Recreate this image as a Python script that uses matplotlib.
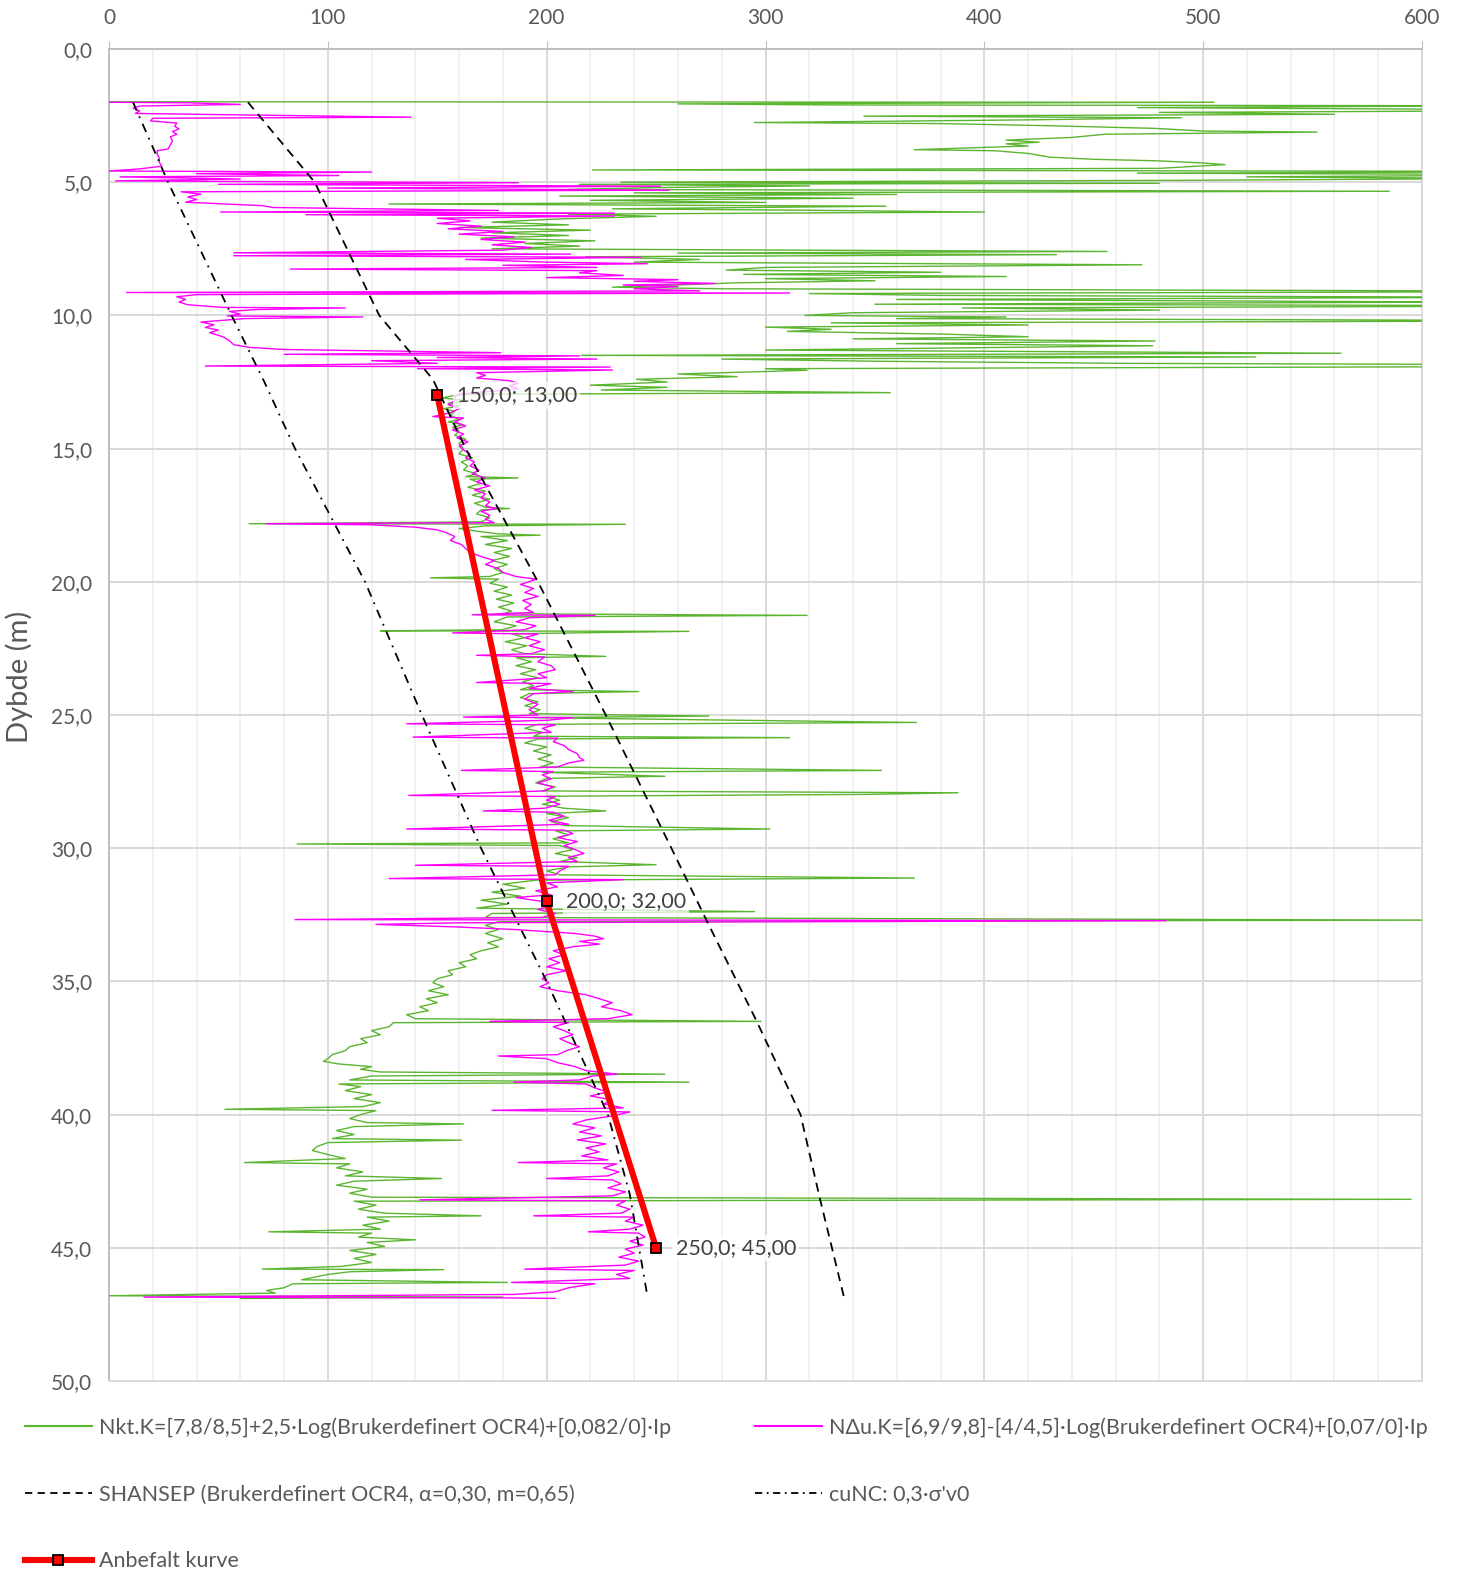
import numpy as np
import matplotlib
matplotlib.use("Agg")
import matplotlib.pyplot as plt
from matplotlib.lines import Line2D
from matplotlib.ticker import MultipleLocator, FuncFormatter

plt.rcParams['font.family'] = ['Lato', 'DejaVu Sans']

# Nkt-tolkning (grønn): (dybde m, su kPa)
nkt_points = [
    (1.98, 0), (2.0, 505), (2.06, 260), (2.1, 330), (2.13, 640), (2.2, 470), (2.3, 700), (2.38, 480),
    (2.45, 560), (2.52, 345), (2.58, 490), (2.66, 420), (2.76, 295), (2.8, 380), (2.88, 430), (2.98, 478),
    (3.08, 500), (3.12, 552), (3.2, 455), (3.32, 440), (3.42, 410), (3.5, 425), (3.56, 410), (3.64, 420),
    (3.78, 368), (3.82, 405), (3.92, 420), (4.06, 430), (4.14, 450), (4.2, 480), (4.28, 500), (4.34, 510),
    (4.48, 480), (4.54, 221), (4.6, 700), (4.66, 470), (4.72, 680), (4.8, 520), (4.86, 640), (4.93, 490),
    (5.0, 234), (5.04, 480), (5.08, 215), (5.14, 320), (5.2, 250), (5.27, 210), (5.34, 585), (5.4, 240),
    (5.46, 360), (5.52, 206), (5.6, 340), (5.68, 220), (5.76, 300), (5.82, 128), (5.9, 355), (6.0, 230),
    (6.05, 315), (6.12, 400), (6.2, 210), (6.28, 250), (6.38, 205), (6.5, 175), (6.6, 210), (6.7, 160),
    (6.8, 220), (6.9, 175), (7.0, 210), (7.1, 170), (7.2, 222), (7.3, 190), (7.4, 215), (7.5, 175),
    (7.6, 456), (7.66, 260), (7.72, 433), (7.8, 218), (7.9, 270), (8.0, 240), (8.1, 472), (8.2, 300),
    (8.3, 282), (8.38, 380), (8.46, 290), (8.54, 410), (8.62, 300), (8.7, 350), (8.78, 285), (8.86, 260),
    (8.94, 230), (9.0, 280), (9.1, 700), (9.18, 320), (9.25, 380), (9.32, 650), (9.4, 360), (9.5, 620),
    (9.58, 350), (9.64, 700), (9.72, 390), (9.8, 480), (9.9, 340), (10.0, 318), (10.06, 410), (10.12, 360),
    (10.2, 700), (10.28, 330), (10.36, 420), (10.44, 300), (10.52, 330), (10.6, 310), (10.7, 380),
    (10.8, 420), (10.88, 340), (10.96, 478), (11.06, 360), (11.14, 477), (11.3, 300), (11.42, 563),
    (11.5, 216), (11.56, 524), (11.64, 280), (11.72, 350), (11.8, 465), (11.86, 700), (11.92, 650),
    (12.0, 300), (12.06, 319), (12.2, 260), (12.3, 287), (12.4, 241), (12.5, 255), (12.62, 220),
    (12.7, 255), (12.8, 225), (12.9, 357), (12.96, 165), (13.0, 158),
    (13.1, 152), (13.2, 165), (13.3, 155), (13.4, 160), (13.5, 153), (13.6, 158), (13.75, 156), (13.9, 160),
    (14.0, 155), (14.1, 162), (14.2, 157), (14.35, 160), (14.5, 158), (14.65, 163), (14.8, 160), (15.0, 162),
    (15.2, 160), (15.35, 166), (15.5, 161), (15.65, 164), (15.8, 162), (15.95, 168), (16.05, 163), (16.1, 187),
    (16.15, 165), (16.3, 170), (16.45, 164), (16.6, 172), (16.75, 166), (16.9, 174), (17.05, 167), (17.2, 172),
    (17.25, 183), (17.3, 170), (17.45, 168), (17.6, 174), (17.75, 170), (17.82, 64), (17.84, 236), (17.9, 172),
    (18.0, 160), (18.1, 168), (18.2, 178), (18.25, 197), (18.3, 170), (18.45, 182), (18.6, 172), (18.75, 184),
    (18.9, 176), (19.05, 183), (19.2, 175), (19.35, 182), (19.5, 176), (19.65, 180), (19.8, 174), (19.85, 147),
    (19.9, 178), (20.05, 174), (20.2, 182), (20.35, 176), (20.5, 184), (20.65, 177), (20.8, 185), (20.95, 178),
    (21.1, 184), (21.2, 180), (21.26, 319), (21.32, 182), (21.5, 176), (21.65, 186), (21.8, 180), (21.84, 124),
    (21.86, 265), (21.95, 184), (22.1, 190), (22.25, 181), (22.4, 191), (22.55, 184), (22.7, 190), (22.8, 227),
    (22.85, 186), (23.0, 193), (23.15, 186), (23.3, 195), (23.45, 188), (23.6, 196), (23.75, 189), (23.9, 194),
    (24.05, 188), (24.12, 242), (24.2, 192), (24.35, 188), (24.5, 196), (24.65, 190), (24.8, 197), (24.95, 192),
    (25.04, 274), (25.1, 194), (25.28, 369), (25.35, 196), (25.5, 190), (25.65, 198), (25.8, 194), (25.85, 311),
    (25.9, 196), (26.05, 190), (26.2, 200), (26.35, 194), (26.5, 202), (26.65, 196), (26.8, 203), (26.95, 197),
    (27.08, 353), (27.15, 198), (27.3, 254), (27.38, 200), (27.55, 195), (27.7, 204), (27.85, 198), (27.92, 388),
    (27.98, 346), (28.05, 200), (28.2, 206), (28.35, 198), (28.5, 208), (28.6, 227), (28.7, 200), (28.85, 210),
    (29.0, 202), (29.15, 208), (29.28, 302), (29.35, 204), (29.5, 210), (29.65, 203), (29.8, 210), (29.84, 86),
    (29.9, 206), (30.05, 212), (30.2, 204), (30.35, 214), (30.5, 206), (30.62, 250), (30.7, 210), (30.85, 200),
    (31.0, 206), (31.12, 368), (31.2, 195), (31.35, 180), (31.5, 190), (31.65, 175), (31.8, 188), (31.95, 170),
    (32.1, 182), (32.25, 168), (32.38, 295), (32.45, 175), (32.6, 172), (32.7, 610), (32.76, 178), (32.9, 172),
    (33.05, 178), (33.2, 172), (33.4, 180), (33.55, 173), (33.7, 178), (33.85, 170), (34.0, 165), (34.15, 168),
    (34.3, 160), (34.45, 163), (34.6, 155), (34.75, 157), (34.9, 150), (35.05, 148), (35.2, 153), (35.35, 146),
    (35.5, 155), (35.65, 145), (35.8, 150), (35.95, 142), (36.1, 146), (36.25, 136), (36.4, 140), (36.5, 298),
    (36.55, 130), (36.7, 128), (36.85, 120), (37.0, 124), (37.15, 115), (37.3, 118), (37.45, 110), (37.6, 108),
    (37.75, 102), (37.9, 100), (38.0, 98), (38.1, 105), (38.2, 120), (38.3, 115), (38.4, 124), (38.48, 254),
    (38.55, 120), (38.7, 110), (38.78, 265), (38.85, 105), (38.95, 115), (39.1, 108), (39.25, 120), (39.4, 112),
    (39.55, 124), (39.7, 116), (39.8, 53), (39.85, 122), (40.0, 115), (40.15, 110), (40.3, 118), (40.35, 162),
    (40.45, 112), (40.6, 104), (40.75, 112), (40.9, 102), (40.96, 161), (41.05, 100), (41.2, 95), (41.35, 93),
    (41.5, 100), (41.65, 108), (41.8, 62), (41.85, 110), (42.0, 104), (42.15, 116), (42.3, 108), (42.4, 152),
    (42.5, 112), (42.65, 104), (42.8, 118), (42.95, 110), (43.1, 120), (43.18, 595), (43.25, 112), (43.4, 122),
    (43.55, 114), (43.7, 126), (43.8, 170), (43.85, 118), (44.0, 128), (44.15, 116), (44.3, 124), (44.4, 73),
    (44.45, 120), (44.6, 114), (44.7, 140), (44.8, 118), (44.95, 126), (45.1, 110), (45.25, 122), (45.4, 112),
    (45.55, 120), (45.7, 106), (45.8, 70), (45.82, 153), (45.9, 110), (46.0, 100), (46.1, 94), (46.2, 88),
    (46.3, 182), (46.35, 84), (46.5, 80), (46.6, 72), (46.7, 76), (46.8, 0), (46.85, 180), (46.9, 60),
]

# NΔu-tolkning (magenta)
ndu_points = [
    (2.0, 0), (2.02, 37), (2.08, 60), (2.14, 14), (2.22, 11), (2.32, 14), (2.42, 12), (2.56, 138), (2.6, 20),
    (2.7, 19), (2.78, 31), (2.9, 30), (3.0, 32), (3.1, 29), (3.2, 31), (3.3, 28), (3.45, 29), (3.6, 28),
    (3.75, 27), (3.82, 22), (3.95, 22), (4.1, 23), (4.25, 23), (4.4, 24), (4.5, 14), (4.58, 0), (4.62, 120),
    (4.68, 40), (4.75, 105), (4.8, 5), (4.88, 60), (4.95, 3), (5.02, 187), (5.08, 50), (5.15, 252), (5.22, 100),
    (5.3, 256), (5.36, 33), (5.45, 42), (5.55, 36), (5.65, 40), (5.75, 35), (5.88, 70), (5.95, 75), (6.06, 178),
    (6.12, 51), (6.16, 231), (6.22, 90), (6.27, 231), (6.35, 150), (6.45, 165), (6.55, 150), (6.65, 170),
    (6.75, 155), (6.85, 180), (6.95, 160), (7.05, 185), (7.15, 170), (7.25, 190), (7.35, 175), (7.45, 193),
    (7.55, 180), (7.65, 57), (7.7, 211), (7.76, 57), (7.82, 243), (7.9, 163), (8.0, 200), (8.06, 246),
    (8.12, 180), (8.2, 223), (8.26, 83), (8.32, 223), (8.4, 215), (8.5, 235), (8.58, 200), (8.66, 260),
    (8.72, 240), (8.8, 277), (8.86, 235), (8.92, 260), (9.0, 240), (9.08, 270), (9.14, 8), (9.16, 311),
    (9.22, 40), (9.3, 31), (9.4, 35), (9.5, 32), (9.6, 36), (9.7, 52), (9.72, 108), (9.78, 67), (9.85, 55),
    (9.95, 60), (10.02, 54), (10.06, 116), (10.12, 62), (10.25, 42), (10.35, 48), (10.45, 44), (10.55, 50),
    (10.65, 46), (10.8, 52), (10.95, 55), (11.1, 57), (11.2, 64), (11.28, 80), (11.4, 179), (11.46, 80),
    (11.52, 215), (11.58, 150), (11.64, 223), (11.7, 120), (11.8, 150), (11.9, 44), (11.94, 229), (12.0, 141),
    (12.05, 230), (12.15, 168), (12.25, 172), (12.35, 168), (12.45, 183), (12.55, 187), (12.65, 183),
    (12.75, 187), (12.85, 175), (12.95, 160), (13.05, 158),
    (13.2, 158), (13.35, 155), (13.5, 160), (13.65, 156), (13.8, 148), (13.85, 162), (14.0, 158), (14.15, 163),
    (14.3, 157), (14.45, 162), (14.6, 159), (14.75, 164), (14.9, 160), (15.05, 162), (15.2, 165), (15.35, 163),
    (15.5, 167), (15.65, 165), (15.8, 169), (15.95, 166), (16.1, 172), (16.25, 168), (16.4, 174), (16.55, 167),
    (16.7, 172), (16.85, 170), (17.0, 174), (17.15, 172), (17.25, 177), (17.35, 170), (17.5, 174), (17.65, 172),
    (17.78, 176), (17.82, 72), (17.86, 120), (17.95, 140), (18.05, 150), (18.15, 154), (18.3, 158), (18.45, 156),
    (18.6, 161), (18.75, 163), (18.9, 165), (19.05, 170), (19.2, 176), (19.35, 172), (19.5, 178), (19.65, 180),
    (19.8, 186), (19.9, 195), (20.0, 192), (20.1, 188), (20.25, 194), (20.4, 190), (20.55, 196), (20.7, 189),
    (20.85, 193), (21.0, 190), (21.15, 194), (21.24, 166), (21.26, 222), (21.35, 192), (21.5, 186), (21.65, 195),
    (21.8, 190), (21.92, 157), (21.96, 196), (22.1, 190), (22.25, 197), (22.4, 192), (22.55, 199), (22.7, 193),
    (22.76, 168), (22.82, 199), (23.0, 196), (23.15, 202), (23.3, 204), (23.45, 196), (23.6, 200), (23.78, 168),
    (23.82, 202), (24.0, 192), (24.12, 212), (24.2, 194), (24.4, 190), (24.6, 196), (24.8, 192), (25.0, 196),
    (25.08, 162), (25.1, 212), (25.2, 200), (25.33, 136), (25.37, 204), (25.5, 198), (25.65, 202), (25.83, 139),
    (25.87, 205), (26.0, 203), (26.15, 208), (26.3, 210), (26.45, 214), (26.6, 215), (26.7, 217), (26.8, 210),
    (26.95, 205), (27.08, 161), (27.12, 203), (27.25, 198), (27.4, 202), (27.55, 196), (27.7, 203), (27.85, 199),
    (28.02, 137), (28.06, 204), (28.2, 200), (28.35, 206), (28.5, 199), (28.6, 171), (28.65, 203), (28.8, 208),
    (28.95, 201), (29.1, 210), (29.28, 136), (29.32, 208), (29.45, 212), (29.6, 205), (29.75, 214), (29.9, 208),
    (30.05, 213), (30.2, 217), (30.35, 210), (30.5, 214), (30.64, 140), (30.68, 210), (30.85, 206), (31.0, 204),
    (31.14, 128), (31.18, 235), (31.3, 200), (31.45, 205), (31.6, 195), (31.75, 202), (31.85, 186), (32.0, 198),
    (32.15, 202), (32.3, 196), (32.45, 204), (32.6, 198), (32.68, 85), (32.72, 483), (32.8, 160), (32.86, 122),
    (32.95, 157), (33.05, 185), (33.2, 213), (33.3, 222), (33.4, 226), (33.5, 215), (33.6, 224), (33.7, 212),
    (33.85, 203), (34.0, 208), (34.15, 201), (34.3, 206), (34.45, 200), (34.6, 209), (34.75, 200), (34.9, 198),
    (35.05, 201), (35.2, 197), (35.35, 205), (35.5, 218), (35.65, 224), (35.8, 230), (35.95, 225), (36.1, 234),
    (36.25, 239), (36.4, 228), (36.5, 174), (36.55, 210), (36.7, 203), (36.85, 208), (37.0, 212), (37.15, 206),
    (37.3, 210), (37.45, 215), (37.6, 209), (37.75, 205), (37.8, 178), (37.9, 200), (38.05, 205), (38.2, 213),
    (38.35, 218), (38.48, 232), (38.55, 221), (38.7, 215), (38.78, 185), (38.85, 218), (39.0, 222), (39.15, 228),
    (39.3, 220), (39.45, 230), (39.6, 226), (39.75, 235), (39.84, 175), (39.9, 238), (40.05, 230), (40.2, 218),
    (40.35, 212), (40.5, 222), (40.65, 215), (40.8, 225), (40.95, 214), (41.1, 227), (41.25, 218), (41.4, 224),
    (41.55, 216), (41.7, 228), (41.8, 187), (41.85, 232), (42.0, 226), (42.15, 233), (42.3, 228), (42.4, 200),
    (42.45, 230), (42.6, 234), (42.75, 228), (42.9, 236), (43.05, 230), (43.2, 142), (43.24, 236), (43.4, 232),
    (43.55, 238), (43.7, 234), (43.8, 194), (43.85, 240), (44.0, 236), (44.15, 244), (44.3, 238), (44.4, 219),
    (44.45, 242), (44.6, 245), (44.75, 238), (44.9, 244), (45.05, 236), (45.2, 240), (45.35, 233), (45.5, 242),
    (45.65, 236), (45.8, 190), (45.85, 240), (46.0, 232), (46.15, 238), (46.3, 184), (46.35, 222), (46.5, 210),
    (46.65, 204), (46.75, 185), (46.85, 16), (46.88, 180), (46.9, 204),
]

# SHANSEP og cuNC
shansep_depth = [2.0, 5.0, 10.0, 12.4, 15.0, 20.0, 25.0, 30.0, 32.7, 36.5, 40.0, 43.2, 46.9]
shansep_value = [63.5, 94, 123.5, 148, 163, 196, 227, 257, 273, 296, 316, 325, 336]
cunc_depth = [2.0, 5.0, 10.0, 12.5, 15.0, 20.0, 25.0, 30.0, 35.0, 40.0, 43.0, 46.8]
cunc_value = [11, 27, 56, 71, 85, 117, 143, 170, 200, 228, 238, 246]

# Anbefalt kurve
rec_value = [150.0, 200.0, 250.0]
rec_depth = [13.0, 32.0, 45.0]

nkt_depth, nkt_value = np.array(nkt_points).T
ndu_depth, ndu_value = np.array(ndu_points).T

green = '#5CB531'
magenta = '#FF00FF'
txt = '#595959'

fig = plt.figure(figsize=(14.64, 15.72), dpi=100)
ax = fig.add_axes([109 / 1464, 1 - 1381 / 1572, (1422 - 109) / 1464, (1381 - 49) / 1572])

ax.plot(nkt_value, nkt_depth, color=green, lw=1.0, zorder=3)
ax.plot(ndu_value, ndu_depth, color=magenta, lw=1.0, zorder=3)
ax.plot(shansep_value, shansep_depth, color='black', lw=1.3, dashes=(5, 3.5), zorder=4)
ax.plot(cunc_value, cunc_depth, color='black', lw=1.3, dashes=(5, 3.5, 1, 3.5), zorder=4)
ax.plot(rec_value, rec_depth, color='#FF0000', lw=4.4, marker='s', ms=7,
        mfc='#FF0000', mec='black', mew=1.3, zorder=5)

for v, d in zip(rec_value, rec_depth):
    lab = f"{v:.1f}; {d:.2f}".replace('.', ',')
    ax.annotate(lab, (v, d), xytext=(14, 0), textcoords='offset points',
                va='center', ha='left', fontsize=15.5, color='#404040', zorder=6,
                bbox=dict(boxstyle='square,pad=0.15', fc='white', ec='none', alpha=0.75))

ax.set_xlim(0, 600)
ax.set_ylim(50, 0)
ax.xaxis.set_major_locator(MultipleLocator(100))
ax.xaxis.set_minor_locator(MultipleLocator(20))
ax.yaxis.set_major_locator(MultipleLocator(5))
ax.yaxis.set_major_formatter(FuncFormatter(lambda v, p: f"{v:.1f}".replace('.', ',')))
ax.xaxis.tick_top()
ax.tick_params(axis='x', which='major', length=6, color='#BFBFBF', labelsize=15, labelcolor=txt, pad=9)
ax.tick_params(axis='x', which='minor', length=0)
ax.tick_params(axis='y', length=0, labelsize=15, labelcolor=txt, pad=12)

ax.grid(True, which='major', color='#D9D9D9', lw=1.4, zorder=0)
ax.grid(True, which='minor', axis='x', color='#EFEFEF', lw=1.2, zorder=0)
ax.set_axisbelow(True)
for side in ['left', 'top']:
    ax.spines[side].set_color('#BFBFBF')
    ax.spines[side].set_linewidth(1.4)
for side in ['right', 'bottom']:
    ax.spines[side].set_color('#D9D9D9')
    ax.spines[side].set_linewidth(1.4)

ax.set_ylabel('Dybde (m)', fontsize=21, color=txt)
ax.yaxis.set_label_coords(-0.058, 0.5285)

h_nkt = Line2D([], [], color=green, lw=1.5)
h_ndu = Line2D([], [], color=magenta, lw=1.5)
h_sh = Line2D([], [], color='black', lw=1.3, dashes=(4, 3))
h_cu = Line2D([], [], color='black', lw=1.3, dashes=(4, 2.5, 1, 2.5))
h_rec = Line2D([], [], color='#FF0000', lw=4.4, marker='s', ms=7, mfc='#FF0000', mec='black', mew=1.3)

leg_kw = dict(frameon=False, fontsize=15.5, handlelength=3.1, handletextpad=0.35,
              labelspacing=2.18, borderpad=0, borderaxespad=0, loc='upper left')
leg1 = fig.legend([h_nkt, h_sh, h_rec],
                  ['Nkt.K=[7,8/8,5]+2,5·Log(Brukerdefinert OCR4)+[0,082/0]·Ip',
                   'SHANSEP (Brukerdefinert OCR4, α=0,30, m=0,65)',
                   'Anbefalt kurve'],
                  bbox_to_anchor=(25 / 1464, 1 - 1417 / 1572), **leg_kw)
leg2 = fig.legend([h_ndu, h_cu],
                  ['NΔu.K=[6,9/9,8]-[4/4,5]·Log(Brukerdefinert OCR4)+[0,07/0]·Ip',
                   "cuNC: 0,3·σ'v0"],
                  bbox_to_anchor=(755 / 1464, 1 - 1417 / 1572), **leg_kw)
for lg in (leg1, leg2):
    for t in lg.get_texts():
        t.set_color(txt)

fig.savefig('out.png', dpi=100)
